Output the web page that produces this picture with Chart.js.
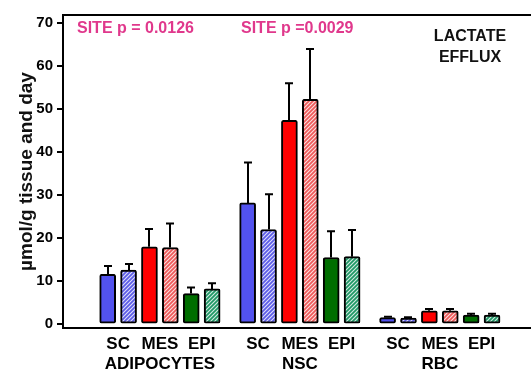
<!DOCTYPE html>
<html lang="en">
<head>
    <meta charset="UTF-8">
    <title>Lactate efflux</title>
    <script src="https://cdn.jsdelivr.net/npm/chart.js"></script>
    <style>
        body { margin: 0; background: #fff; }
        #wrap { width: 531px; height: 374px; }
    </style>
</head>
<body>
    <div id="wrap">
        <canvas id="lactate-chart" width="531" height="374"></canvas>
    </div>

    <script>
        // Data (group-major, site-minor order)
        const groups = ['ADIPOCYTES', 'NSC', 'RBC'];
        const sites = ['SC', 'MES', 'EPI'];
        const solidMean = [11.6, 18.0, 7.1, 28.2, 47.4, 15.5, 1.5, 3.1, 2.1];
        const solidSD   = [1.9, 4.1, 1.4, 9.4, 8.6, 6.1, 0.2, 0.4, 0.3];
        const hatchMean = [12.6, 17.8, 8.2, 22.0, 52.3, 15.7, 1.4, 3.1, 2.1];
        const hatchSD   = [1.4, 5.6, 1.3, 8.2, 11.7, 6.2, 0.2, 0.4, 0.3];
        const pLabels = ['SITE p = 0.0126', 'SITE p =0.0029'];
        const yTicks = [0, 10, 20, 30, 40, 50, 60, 70];
        const titleLines = ['LACTATE', 'EFFLUX'];

        const FONT = '"Liberation Sans", Arial, sans-serif';
        const siteColors  = ['#5252ee', '#ff0000', '#006e00'];
        const hatchColors = ['#5c5ce8', '#ee5a5a', '#1f9866'];

        // slot position of bar k (0 solid, 1 hatched) of item i
        function pos(i, k) {
            return Math.floor(i / 3) * 6.7 + (i % 3) * 2 + k;
        }

        function makeHatch(color) {
            const p = 4;
            const c = document.createElement('canvas');
            c.width = p; c.height = p;
            const g = c.getContext('2d');
            g.fillStyle = color;
            g.fillRect(0, 0, p, p);
            g.strokeStyle = 'rgba(255,255,255,0.8)';
            g.lineWidth = 1.1;
            g.beginPath();
            g.moveTo(0, p); g.lineTo(p, 0);
            g.moveTo(-1, 1); g.lineTo(1, -1);
            g.moveTo(p - 1, p + 1); g.lineTo(p + 1, p - 1);
            g.stroke();
            return document.getElementById('lactate-chart').getContext('2d').createPattern(c, 'repeat');
        }
        const hatchPatterns = hatchColors.map(makeHatch);

        const barStyle = {
            barThickness: 16,
            grouped: false,
            borderColor: '#000',
            borderWidth: 2,
            borderSkipped: false,
            borderRadius: 2
        };

        // error bars, top border line and the text labels
        const extrasPlugin = {
            id: 'extras',
            afterDatasetsDraw(chart) {
                const { ctx, scales: { x, y } } = chart;
                const sets = [[solidMean, solidSD], [hatchMean, hatchSD]];
                ctx.save();
                ctx.strokeStyle = '#000';
                ctx.lineWidth = 2;
                sets.forEach(([means, sds], k) => {
                    means.forEach((m, i) => {
                        const px = Math.round(x.getPixelForValue(pos(i, k)));
                        const y0 = y.getPixelForValue(m);
                        const y1 = y.getPixelForValue(m + sds[i]);
                        ctx.beginPath();
                        ctx.moveTo(px, y0);
                        ctx.lineTo(px, y1);
                        ctx.moveTo(px - 4, y1);
                        ctx.lineTo(px + 4, y1);
                        ctx.stroke();
                    });
                });
                ctx.restore();
            },
            afterDraw(chart) {
                const { ctx, chartArea } = chart;
                ctx.save();
                ctx.strokeStyle = '#000';
                ctx.lineWidth = 2;
                ctx.beginPath();
                ctx.moveTo(chartArea.left, chartArea.top);
                ctx.lineTo(chartArea.right, chartArea.top);
                ctx.stroke();

                ctx.fillStyle = '#e0388c';
                ctx.font = 'bold 16px ' + FONT;
                ctx.textBaseline = 'middle';
                ctx.textAlign = 'left';
                ctx.fillText(pLabels[0], 77, 29);
                ctx.fillText(pLabels[1], 241, 29);

                ctx.fillStyle = '#111';
                ctx.font = 'bold 16px ' + FONT;
                ctx.textAlign = 'center';
                ctx.fillText(titleLines[0], 470, 37);
                ctx.fillText(titleLines[1], 470, 58);
                ctx.restore();
            }
        };

        const xTickValues = [];
        for (let i = 0; i < 9; i++) xTickValues.push(pos(i, 0) + 0.5);

        const ctx = document.getElementById('lactate-chart').getContext('2d');
        new Chart(ctx, {
            type: 'bar',
            data: {
                datasets: [{
                    data: solidMean.map((v, i) => ({ x: pos(i, 0), y: v })),
                    backgroundColor: solidMean.map((v, i) => siteColors[i % 3]),
                    ...barStyle
                }, {
                    data: hatchMean.map((v, i) => ({ x: pos(i, 1), y: v })),
                    backgroundColor: hatchMean.map((v, i) => hatchPatterns[i % 3]),
                    ...barStyle
                }]
            },
            options: {
                responsive: false,
                animation: false,
                layout: { padding: { top: 15, right: 0, left: 0, bottom: 0 } },
                plugins: {
                    legend: { display: false },
                    tooltip: { enabled: false }
                },
                scales: {
                    x: {
                        type: 'linear',
                        min: -0.894,
                        max: 19.02,
                        afterBuildTicks: s => { s.ticks = xTickValues.map(v => ({ value: v })); },
                        afterFit: s => { s.height = 46; },
                        grid: { display: false, drawTicks: false },
                        border: { display: true, color: '#000', width: 2 },
                        ticks: {
                            autoSkip: false,
                            maxRotation: 0,
                            padding: 6,
                            color: '#000',
                            font: { family: FONT, size: 17, weight: 'bold', lineHeight: 1.18 },
                            callback: (value, index) => index % 3 === 1
                                ? [sites[1], groups[Math.floor(index / 3)]]
                                : sites[index % 3]
                        }
                    },
                    y: {
                        min: -0.9,
                        max: 71.9,
                        afterBuildTicks: s => { s.ticks = yTicks.map(v => ({ value: v })); },
                        afterFit: s => { s.width = 63; },
                        grid: { drawOnChartArea: false, drawTicks: true, tickLength: 6, color: '#000', lineWidth: 2 },
                        border: { display: true, color: '#000', width: 2 },
                        ticks: {
                            padding: 4,
                            color: '#000',
                            font: { family: FONT, size: 15, weight: 'bold' }
                        },
                        title: {
                            display: true,
                            text: 'µmol/g tissue and day',
                            color: '#111',
                            padding: { top: 15, bottom: 0 },
                            font: { family: FONT, size: 19, weight: 'bold' }
                        }
                    }
                }
            },
            plugins: [extrasPlugin]
        });
    </script>
</body>
</html>
